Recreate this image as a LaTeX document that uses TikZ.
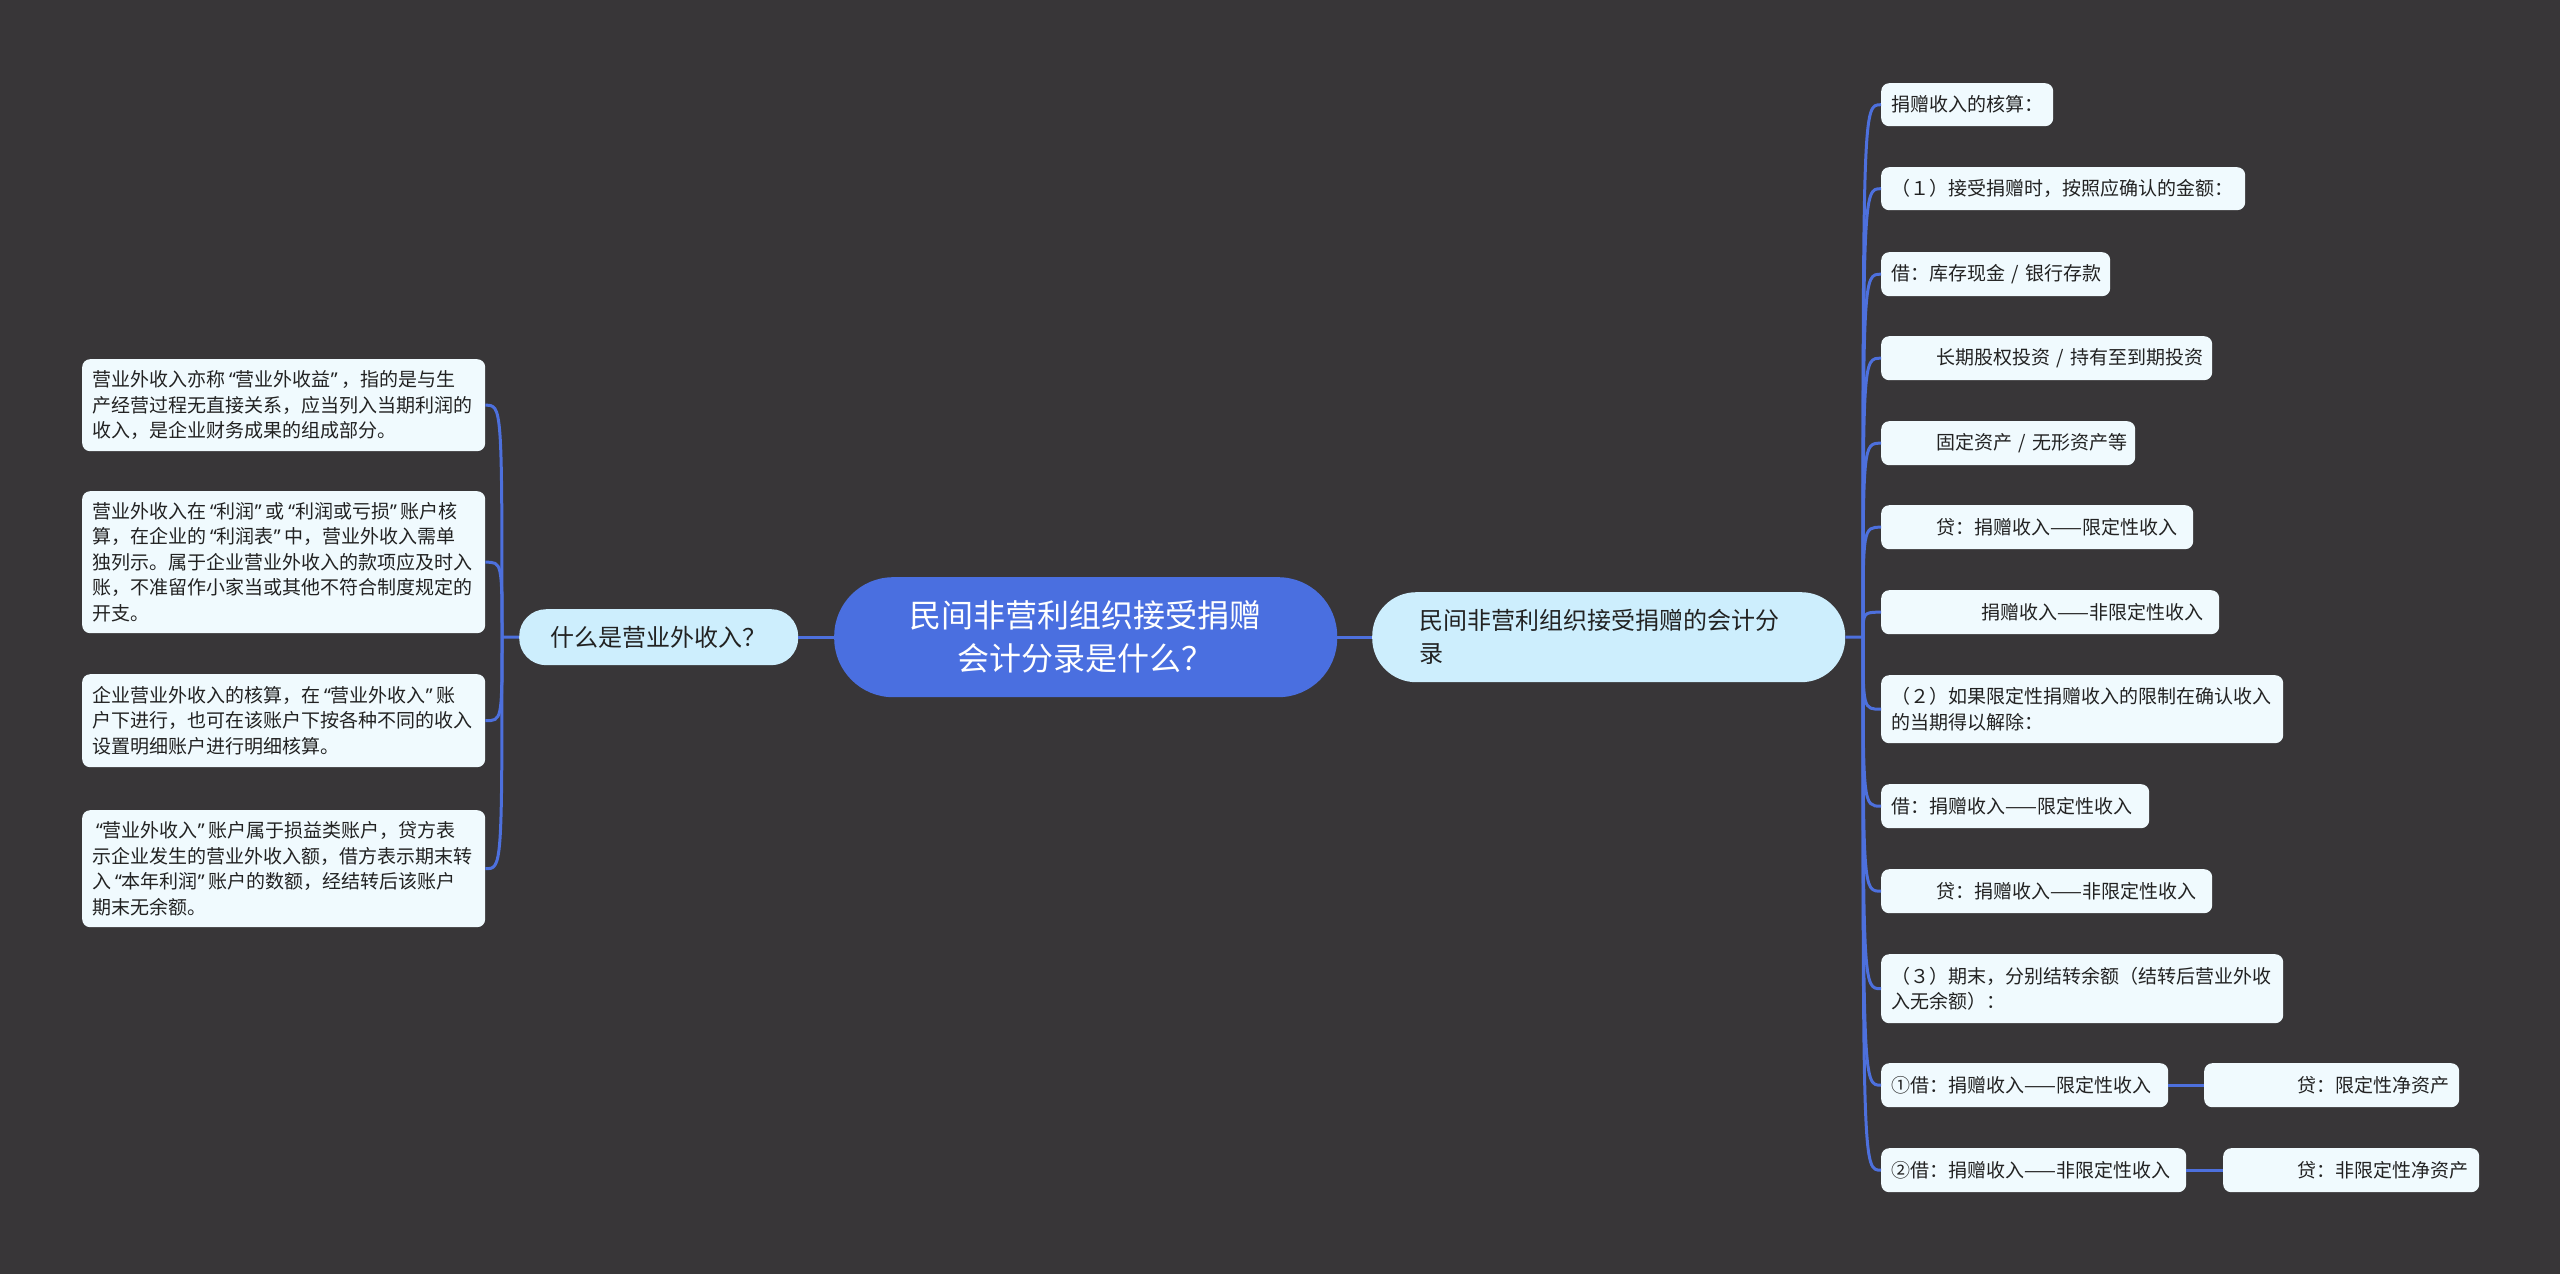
\documentclass[tikz,border=0pt]{standalone}
\usepackage{fontspec}
\setmainfont{Noto Sans CJK SC}
\newfontfamily\latinf{Noto Sans}
\newcommand\oqt{\makebox[0.56em][r]{\latinf “}}
\newcommand\cqt{\makebox[0.56em][l]{\latinf ”}}
\definecolor{bgc}{HTML}{383638}
\definecolor{centc}{HTML}{4A6FE0}
\definecolor{mainc}{HTML}{CDEEFD}
\definecolor{leafc}{HTML}{F0FAFE}
\definecolor{linec}{HTML}{4D70DD}
\definecolor{txtc}{HTML}{222222}
\tikzset{
  conn/.style={draw=linec, line width=3pt},
  leaf/.style={fill=leafc, rounded corners=8pt, anchor=north west, inner xsep=10pt, inner ysep=0pt, align=left, text=txtc, font=\fontsize{19}{25.5}\selectfont},
  mainn/.style={fill=mainc, anchor=north west, inner ysep=0pt, text=txtc, font=\fontsize{24}{33}\selectfont},
}
\begin{document}
\begin{tikzpicture}[x=1pt,y=-1pt]
\useasboundingbox (0,0) rectangle (2560,1274);
\fill[bgc] (0,0) rectangle (2560,1274);

% central and main nodes
\node[fill=centc, rounded corners=59pt, anchor=north west, minimum width=503pt, minimum height=120pt, inner sep=0pt, align=center, text=white, font=\fontsize{32}{43}\selectfont] (c) at (834,577) {民间非营利组织接受捐赠\\会计分录是什么？};
\node[mainn, minimum width=279pt, minimum height=56pt, inner xsep=0pt, rounded corners=27pt, align=center] (lm) at (519,609) {什么是营业外收入？};
\node[mainn, inner xsep=47pt, text width=379pt, minimum height=90pt, rounded corners=44pt, align=left] (rm) at (1372,592) {民间非营利组织接受捐赠的会计分\\录};

% left leaves
\node[leaf, text width=383pt, minimum height=92pt] (l1) at (82,359) {营业外收入亦称\oqt 营业外收益\cqt ，指的是与生\\产经营过程无直接关系，应当列入当期利润的\\收入，是企业财务成果的组成部分。};
\node[leaf, text width=383pt, minimum height=142pt] (l2) at (82,491) {营业外收入在\oqt 利润\cqt 或\oqt 利润或亏损\cqt 账户核\\算，在企业的\oqt 利润表\cqt 中，营业外收入需单\\独列示。属于企业营业外收入的款项应及时入\\账，不准留作小家当或其他不符合制度规定的\\开支。};
\node[leaf, text width=383pt, minimum height=93pt] (l3) at (82,674) {企业营业外收入的核算，在\oqt 营业外收入\cqt 账\\户下进行，也可在该账户下按各种不同的收入\\设置明细账户进行明细核算。};
\node[leaf, text width=383pt, minimum height=117pt] (l4) at (82,810) {\oqt 营业外收入\cqt 账户属于损益类账户，贷方表\\示企业发生的营业外收入额，借方表示期末转\\入\oqt 本年利润\cqt 账户的数额，经结转后该账户\\期末无余额。};

% right leaves
\node[leaf, text width=152pt, minimum height=43pt] (r1) at (1881,83) {捐赠收入的核算：};
\node[leaf, text width=344pt, minimum height=43pt] (r2) at (1881,167) {（１）接受捐赠时，按照应确认的金额：};
\node[leaf, text width=209pt, minimum height=44pt] (r3) at (1881,252) {借：库存现金~/~银行存款};
\node[leaf, text width=311pt, minimum height=44pt] (r4) at (1881,336) {\hspace*{45pt}长期股权投资~/~持有至到期投资};
\node[leaf, text width=234pt, minimum height=44pt] (r5) at (1881,421) {\hspace*{45pt}固定资产~/~无形资产等};
\node[leaf, text width=292pt, minimum height=44pt] (r6) at (1881,505) {\hspace*{45pt}贷：捐赠收入——限定性收入};
\node[leaf, text width=318pt, minimum height=44pt] (r7) at (1881,590) {\hspace*{90pt}捐赠收入——非限定性收入};
\node[leaf, text width=382pt, minimum height=68pt] (r8) at (1881,675) {（２）如果限定性捐赠收入的限制在确认收入\\的当期得以解除：};
\node[leaf, text width=248pt, minimum height=44pt] (r9) at (1881,784) {借：捐赠收入——限定性收入};
\node[leaf, text width=311pt, minimum height=44pt] (r10) at (1881,869) {\hspace*{45pt}贷：捐赠收入——非限定性收入};
\node[leaf, text width=382pt, minimum height=69pt] (r11) at (1881,954) {（３）期末，分别结转余额（结转后营业外收\\入无余额）：};
\node[leaf, text width=267pt, minimum height=44pt] (r12) at (1881,1063) {①借：捐赠收入——限定性收入};
\node[leaf, text width=235pt, minimum height=44pt] (r12b) at (2204,1063) {\hspace*{83pt}贷：限定性净资产};
\node[leaf, text width=285pt, minimum height=44pt] (r13) at (1881,1148) {②借：捐赠收入——非限定性收入};
\node[leaf, text width=236pt, minimum height=44pt] (r13b) at (2223,1148) {\hspace*{64pt}贷：非限定性净资产};

% trunks
\coordinate (lt) at (502,637);
\coordinate (rt) at (1863,637);

% connectors
\draw[conn] (c.west) -- (lm.east);
\draw[conn] (c.east) -- (rm.west);
\draw[conn] (lm.west) -- (lt);
\draw[conn] (rm.east) -- (rt);
\foreach \n in {l1,l2,l3,l4}
  \draw[conn] (lt) .. controls (lt |- \n.east) .. (\n.east);
\foreach \n in {r1,r2,r3,r4,r5,r6,r7,r8,r9,r10,r11,r12,r13}
  \draw[conn] (rt) .. controls (rt |- \n.west) .. (\n.west);
\draw[conn] (r12.east) -- (r12b.west);
\draw[conn] (r13.east) -- (r13b.west);
\end{tikzpicture}
\end{document}
